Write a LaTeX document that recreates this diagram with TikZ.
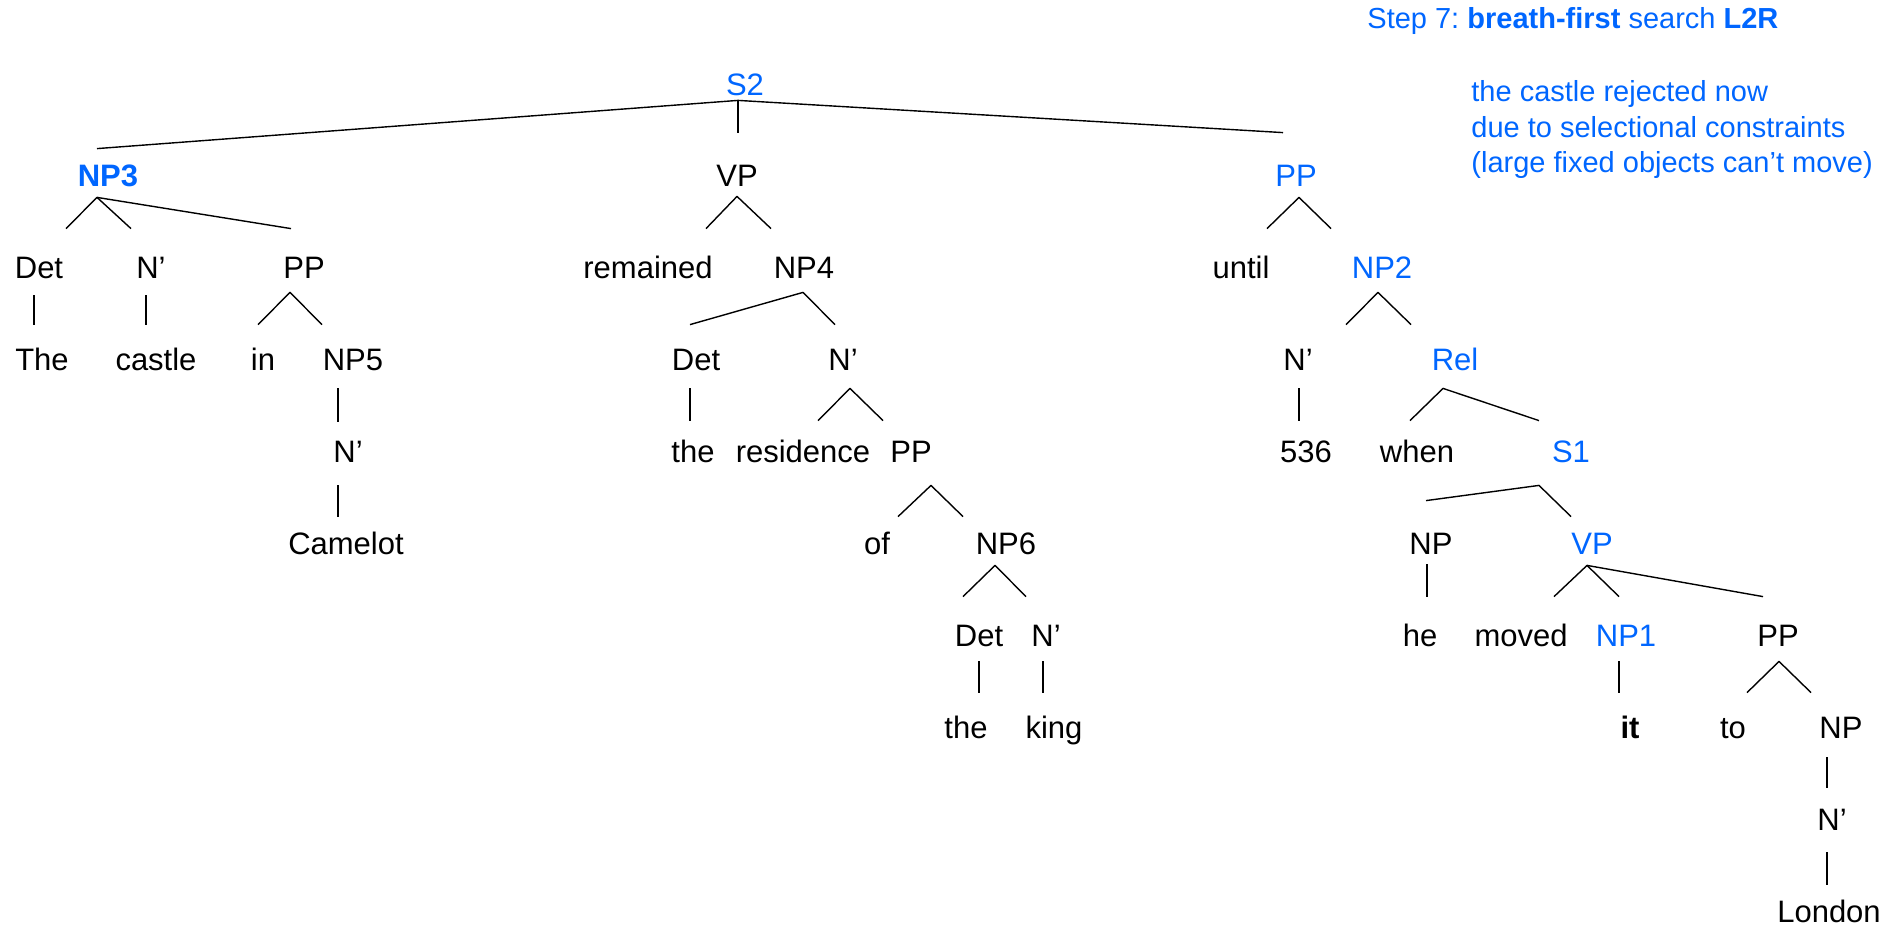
\documentclass[tikz,border=0pt]{standalone}
\usepackage{fontspec}
\setmainfont{Liberation Sans}
\frenchspacing
\definecolor{hotblue}{RGB}{0,102,255}
\tikzset{
  cat/.style={anchor=base, inner sep=0pt, text height=22.5pt, text depth=6.5pt,
    font=\fontsize{15.5}{18}\selectfont},
  hot/.style={cat, text=hotblue},
  note/.style={anchor=base west, inner sep=0pt, text=hotblue,
    font=\fontsize{14.5}{18}\selectfont},
  branch/.style={line width=0.7pt, line join=round},
}

\begin{document}
\begin{tikzpicture}[x=0.5pt,y=-0.5pt]
\useasboundingbox (0,0) rectangle (1899,926);

% step heading and remark
\node[note] (title) at (1367,28) {Step 7: \textbf{breath-first} search \textbf{L2R}};
\node[note] (why1) at (1471,101) {the castle rejected now};
\node[note] (why2) at (1471,137) {due to selectional constraints};
\node[note] (why3) at (1471,172) {(large fixed objects can’t move)};

% tree labels, level by level
\node[hot] (s2) at (745,95) {S2};

\node[hot] (np3) at (108,186) {\bfseries NP3};
\node[cat] (vp) at (737,186) {VP};
\node[hot] (pp) at (1296,186) {PP};

\node[cat] (det1) at (39,278) {Det};
\node[cat] (nb1) at (151,278) {N’};
\node[cat] (pp1) at (304,278) {PP};
\node[cat] (remained) at (648,278) {remained};
\node[cat] (np4) at (804,278) {NP4};
\node[cat] (until) at (1241,278) {until};
\node[hot] (np2) at (1382,278) {NP2};

\node[cat] (the1) at (42,370) {The};
\node[cat] (castle) at (156,370) {castle};
\node[cat] (in) at (263,370) {in};
\node[cat] (np5) at (353,370) {NP5};
\node[cat] (det2) at (696,370) {Det};
\node[cat] (nb2) at (843,370) {N’};
\node[cat] (nb3) at (1298,370) {N’};
\node[hot] (rel) at (1455,370) {Rel};

\node[cat] (nb4) at (348,462) {N’};
\node[cat] (the2) at (693,462) {the};
\node[cat] (residence) at (803,462) {residence};
\node[cat] (pp2) at (911,462) {PP};
\node[cat] (yr) at (1306,462) {536};
\node[cat] (when) at (1417,462) {when};
\node[hot] (s1) at (1571,462) {S1};

\node[cat] (camelot) at (346,554) {Camelot};
\node[cat] (of) at (877,554) {of};
\node[cat] (np6) at (1006,554) {NP6};
\node[cat] (np) at (1431,554) {NP};
\node[hot] (vp2) at (1592,554) {VP};

\node[cat] (det3) at (979,646) {Det};
\node[cat] (nb5) at (1046,646) {N’};
\node[cat] (he) at (1420,646) {he};
\node[cat] (moved) at (1521,646) {moved};
\node[hot] (np1) at (1626,646) {NP1};
\node[cat] (pp4) at (1778,646) {PP};

\node[cat] (the3) at (966,738) {the};
\node[cat] (king) at (1054,738) {king};
\node[cat] (it) at (1630,738) {\bfseries it};
\node[cat] (to) at (1733,738) {to};
\node[cat] (npl) at (1841,738) {NP};

\node[cat] (nb6) at (1832,830) {N’};
\node[cat] (london) at (1829,922) {London};

% branches
\draw[branch] ([shift={(-11,8)}]np3.north) -- ([shift={(-7,-8)}]s2.south) -- ([shift={(-13,-8)}]pp.north);
\draw[branch] ([shift={(-7,-8)}]s2.south) -- ([shift={(1,-8)}]vp.north);

\draw[branch] ([shift={(27,-4)}]det1.north) -- ([shift={(-11,-2)}]np3.south) -- ([shift={(-20,-4)}]nb1.north);
\draw[branch] ([shift={(-11,-2)}]np3.south) -- ([shift={(-13,-4)}]pp1.north);
\draw[branch] ([shift={(-5,4)}]det1.south) -- ([shift={(-8,0)}]the1.north);
\draw[branch] ([shift={(-5,4)}]nb1.south) -- ([shift={(-10,0)}]castle.north);
\draw[branch] ([shift={(-5,0)}]in.north) -- ([shift={(-14,1)}]pp1.south) -- ([shift={(-31,0)}]np5.north);
\draw[branch] ([shift={(-15,5)}]np5.south) -- ([shift={(-10,5)}]nb4.north);
\draw[branch] ([shift={(-10,10)}]nb4.south) -- ([shift={(-8,8)}]camelot.north);

\draw[branch] ([shift={(58,-4)}]remained.north) -- ([shift={(0,-3)}]vp.south) -- ([shift={(-33,-4)}]np4.north);
\draw[branch] ([shift={(-6,0)}]det2.north) -- ([shift={(-1,1)}]np4.south) -- ([shift={(-8,0)}]nb2.north);
\draw[branch] ([shift={(-6,5)}]det2.south) -- ([shift={(-3,4)}]the2.north);
\draw[branch] ([shift={(15,4)}]residence.north) -- ([shift={(7,5)}]nb2.south) -- ([shift={(-28,4)}]pp2.north);
\draw[branch] ([shift={(21,8)}]of.north) -- ([shift={(20,10)}]pp2.south) -- ([shift={(-43,8)}]np6.north);
\draw[branch] ([shift={(-16,-4)}]det3.north) -- ([shift={(-11,-2)}]np6.south) -- ([shift={(-20,-4)}]nb5.north);
\draw[branch] ([shift={(0,2)}]det3.south) -- ([shift={(13,0)}]the3.north);
\draw[branch] ([shift={(-3,2)}]nb5.south) -- ([shift={(-11,0)}]king.north);

\draw[branch] ([shift={(26,-4)}]until.north) -- ([shift={(3,-2)}]pp.south) -- ([shift={(-51,-4)}]np2.north);
\draw[branch] ([shift={(48,0)}]nb3.north) -- ([shift={(-4,1)}]np2.south) -- ([shift={(-44,0)}]rel.north);
\draw[branch] ([shift={(1,5)}]nb3.south) -- ([shift={(-7,4)}]yr.north);
\draw[branch] ([shift={(-7,4)}]when.north) -- ([shift={(-12,5)}]rel.south) -- ([shift={(-32,4)}]s1.north);
\draw[branch] ([shift={(-5,-8)}]np.north) -- ([shift={(-32,10)}]s1.south) -- ([shift={(-21,8)}]vp2.north);
\draw[branch] ([shift={(-4,-3)}]np.south) -- ([shift={(7,-4)}]he.north);
\draw[branch] ([shift={(33,-4)}]moved.north) -- ([shift={(-5,-2)}]vp2.south) -- ([shift={(-7,-4)}]np1.north);
\draw[branch] ([shift={(-5,-2)}]vp2.south) -- ([shift={(-15,-4)}]pp4.north);
\draw[branch] ([shift={(-7,2)}]np1.south) -- ([shift={(-11,0)}]it.north);
\draw[branch] ([shift={(14,0)}]to.north) -- ([shift={(1,2)}]pp4.south) -- ([shift={(-30,0)}]npl.north);
\draw[branch] ([shift={(-14,6)}]npl.south) -- ([shift={(-5,3)}]nb6.north);
\draw[branch] ([shift={(-5,9)}]nb6.south) -- ([shift={(-2,8)}]london.north);
\end{tikzpicture}
\end{document}
